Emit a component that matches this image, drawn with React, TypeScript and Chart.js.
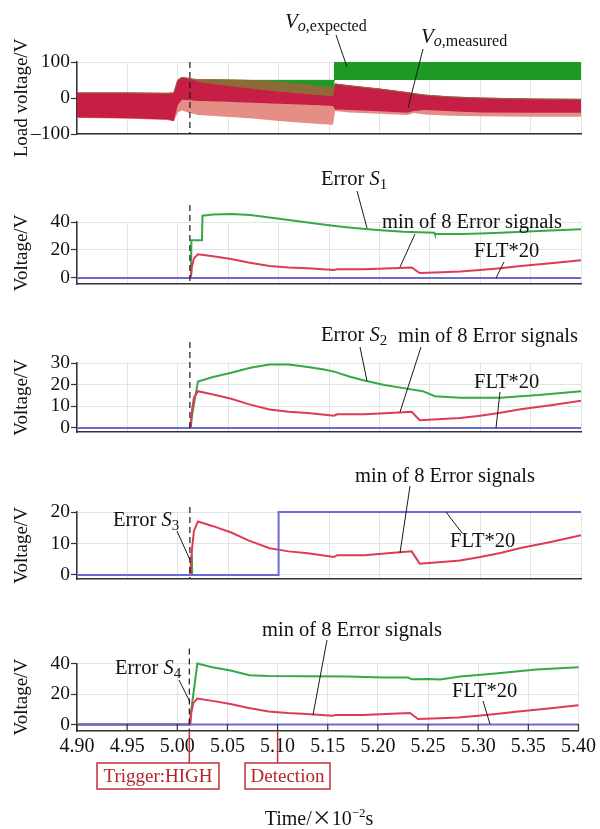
import React, { useEffect, useRef } from 'react';
import { Chart, registerables } from 'chart.js';

Chart.register(...registerables);

const SERIF = '"Liberation Serif", "Times New Roman", serif';
const LABEL_SIZE = 20.5;

// Shared time axis (×10^-2 s)
const timeTicks = [4.9, 4.95, 5.0, 5.05, 5.1, 5.15, 5.2, 5.25, 5.3, 5.35, 5.4];
const triggerTime = 5.012;
const detectionTime = 5.1;

// Load voltage: envelopes of the switching ripple
const loadTime = [4.9, 4.95, 4.99, 4.996, 5.0, 5.004, 5.012, 5.02, 5.04, 5.06, 5.08, 5.1, 5.12, 5.14, 5.154, 5.156, 5.17, 5.2, 5.228, 5.234, 5.245, 5.27, 5.3, 5.35, 5.4];
const measuredHigh = [14, 14, 13, 14, 50, 57, 54, 51, 51, 50, 48, 44, 39, 33, 28, 39, 34, 25, 15, 12, 8, 3, 0, -3, -4];
const coreHigh = [14, 14, 13, 14, 50, 57, 54, 45, 37, 30, 24, 18, 13, 8, 5, 39, 34, 25, 15, 12, 8, 3, 0, -3, -4];
const coreLow = [-54, -56, -60, -64, -20, -5, -6, -8, -10, -12, -14, -16, -18, -20, -22, -32, -33, -37, -41, -36, -33, -37, -40, -41, -41];
const measuredLow = [-54, -56, -60, -64, -40, -35, -42, -47, -51, -54, -58, -64, -68, -72, -74, -36, -40, -44, -47, -42, -46, -49, -51, -52, -52];

// Expected output voltage band
const expectedTime = [5.012, 5.155, 5.1555, 5.4];
const expectedHigh = [49, 49, 100, 100];
const expectedLow = [26, 26, 50, 50];

// min of 8 error signals (same trace in every error panel)
const minErrTime = [4.9, 5.013, 5.014, 5.016, 5.02, 5.035, 5.053, 5.07, 5.091, 5.11, 5.129, 5.155, 5.158, 5.185, 5.22, 5.232, 5.24, 5.262, 5.28, 5.3, 5.32, 5.34, 5.37, 5.4];
const minErr = [0, 0, 8, 14, 17, 15.5, 13.5, 11, 8.5, 7.5, 6.9, 5.7, 6.3, 6.3, 7.2, 7.5, 3.6, 4.1, 4.6, 5.7, 7.0, 8.6, 10.5, 12.6];

// Error signals of the individual switches
const s1Time = [4.9, 5.013, 5.0135, 5.024, 5.0245, 5.035, 5.053, 5.072, 5.091, 5.11, 5.129, 5.148, 5.167, 5.186, 5.205, 5.224, 5.2545, 5.255, 5.282, 5.3, 5.32, 5.358, 5.4];
const s1 = [0, 0, 27, 27, 44.5, 45.3, 45.7, 45, 43.2, 41.4, 39.6, 37.8, 36.3, 35, 34, 33, 32.4, 31.4, 31.4, 31.8, 32.4, 33.6, 34.8];

const s2Time = [4.9, 5.012, 5.02, 5.035, 5.053, 5.072, 5.091, 5.11, 5.129, 5.145, 5.156, 5.17, 5.186, 5.205, 5.224, 5.243, 5.255, 5.28, 5.32, 5.358, 5.4];
const s2 = [0, 0, 21.5, 23.5, 25.5, 27.8, 29.3, 29.3, 28.2, 27, 25.9, 23.8, 21.8, 19.8, 18.4, 17, 14.7, 14, 14, 15.2, 17];

const s3Time = [4.9, 5.012, 5.0138, 5.0143];
const s3 = [0, 0, 6.5, 0];

const s4Time = [4.9, 5.012, 5.02, 5.035, 5.053, 5.072, 5.091, 5.13, 5.17, 5.205, 5.23, 5.234, 5.25, 5.262, 5.282, 5.3, 5.32, 5.358, 5.4];
const s4 = [0, 0, 40, 37.5, 35.4, 32.3, 31.8, 31.6, 31.4, 30.8, 30.8, 29.6, 29.9, 29.5, 31.4, 32.5, 33.6, 36, 37.6];

// Fault flag ×20
const fltTime = [4.9, 5.1, 5.1, 5.4];
const fltIdle = [0, 0, 0, 0];
const fltS3 = [0, 0, 20, 20];

const loadTicks = [-100, 0, 100];
const s1Ticks = [0, 20, 40];
const s2Ticks = [0, 10, 20, 30];
const s3Ticks = [0, 10, 20];
const s4Ticks = [0, 20, 40];

const GREEN = '#36a845';
const RED = '#de3b58';
const BLUE = '#6b6bd6';
const INK = '#1a1a1a';
const MARK = '#c3303a';

type Part = { text: string; italic?: boolean; size?: number; dy?: number; family?: string };
type Ann =
  | { kind: 'text'; x: number; y: number; parts: Part[] }
  | { kind: 'line'; x1: number; y1: number; x2: number; y2: number };

interface PanelSpec {
  top: number;
  height: number;
  areaTop: number;
  areaBottom: number;
  yMin: number;
  yMax: number;
  yTicks: number[];
  yTitle: string;
  datasets: any[];
  annotations: Ann[];
  dashRise: number;
  timeAxis?: boolean;
}

const pts = (t: number[], v: number[]) => t.map((x, i) => ({ x, y: v[i] }));

const trace = (label: string, t: number[], v: number[], color: string, order: number) => ({
  label,
  data: pts(t, v),
  borderColor: color,
  borderWidth: 2,
  pointRadius: 0,
  fill: false,
  clip: false,
  order,
});

const band = (label: string, t: number[], v: number[], color: string | null, order: number) => ({
  label,
  data: pts(t, v),
  borderColor: color ?? 'rgba(0,0,0,0)',
  borderWidth: 1,
  backgroundColor: color ?? 'rgba(0,0,0,0)',
  fill: color ? '-1' : false,
  pointRadius: 0,
  order,
});

const txt = (x: number, y: number, parts: Part[]): Ann => ({ kind: 'text', x, y, parts });
const lead = (x1: number, y1: number, x2: number, y2: number): Ann => ({ kind: 'line', x1, y1, x2, y2 });
const errLabel = (x: number, y: number, n: string) =>
  txt(x, y, [{ text: 'Error ' }, { text: 'S', italic: true }, { text: n, size: 15, dy: 4 }]);

const panels: PanelSpec[] = [
  {
    top: 0, height: 160, areaTop: 62, areaBottom: 134,
    yMin: -100, yMax: 100, yTicks: loadTicks, yTitle: 'Load voltage/V', dashRise: 0,
    datasets: [
      band('measured low', loadTime, measuredLow, null, 4),
      band('ripple low', loadTime, coreLow, '#e58e86', 3),
      band('ripple core', loadTime, coreHigh, '#c61e44', 2),
      band('ripple over expected', loadTime, measuredHigh, '#8d6a38', 1),
      band('expected low', expectedTime, expectedLow, null, 6),
      band('expected', expectedTime, expectedHigh, '#1c9a24', 5),
    ],
    annotations: [
      txt(285, 28, [{ text: 'V', italic: true, size: 21 }, { text: 'o', italic: true, size: 16, dy: 3 }, { text: ',expected', size: 16, dy: 3 }]),
      lead(336, 35, 347, 67),
      txt(421, 43, [{ text: 'V', italic: true, size: 21 }, { text: 'o', italic: true, size: 16, dy: 3 }, { text: ',measured', size: 16, dy: 3 }]),
      lead(423, 49, 408, 108),
    ],
  },
  {
    top: 160, height: 140, areaTop: 222, areaBottom: 284,
    yMin: -4.29, yMax: 40, yTicks: s1Ticks, yTitle: 'Voltage/V', dashRise: 17,
    datasets: [
      trace('FLT*20', fltTime, fltIdle, BLUE, 1),
      trace('min of 8 Error signals', minErrTime, minErr, RED, 2),
      trace('Error S1', s1Time, s1, GREEN, 3),
    ],
    annotations: [
      errLabel(321, 185, '1'),
      lead(357, 191, 367, 228),
      txt(382, 228, [{ text: 'min of 8 Error signals' }]),
      lead(415, 234, 400, 267),
      txt(474, 257, [{ text: 'FLT*20' }]),
      lead(504, 262, 496, 278),
    ],
  },
  {
    top: 300, height: 150, areaTop: 363, areaBottom: 432,
    yMin: -1.85, yMax: 30, yTicks: s2Ticks, yTitle: 'Voltage/V', dashRise: 21,
    datasets: [
      trace('FLT*20', fltTime, fltIdle, BLUE, 1),
      trace('min of 8 Error signals', minErrTime, minErr, RED, 2),
      trace('Error S2', s2Time, s2, GREEN, 3),
    ],
    annotations: [
      errLabel(321, 341, '2'),
      lead(360, 347, 367, 381),
      txt(398, 342, [{ text: 'min of 8 Error signals' }]),
      lead(421, 347, 400, 412),
      txt(474, 388, [{ text: 'FLT*20' }]),
      lead(500, 392, 496, 428),
    ],
  },
  {
    top: 450, height: 150, areaTop: 512, areaBottom: 579,
    yMin: -1.27, yMax: 20, yTicks: s3Ticks, yTitle: 'Voltage/V', dashRise: 5,
    datasets: [
      trace('FLT*20', fltTime, fltS3, BLUE, 1),
      trace('min of 8 Error signals', minErrTime, minErr, RED, 2),
      trace('Error S3', s3Time, s3, GREEN, 3),
    ],
    annotations: [
      txt(355, 482, [{ text: 'min of 8 Error signals' }]),
      lead(410, 486, 400, 553),
      txt(450, 547, [{ text: 'FLT*20' }]),
      lead(446, 512, 462, 533),
      errLabel(113, 526, '3'),
      lead(177, 531, 190, 560),
    ],
  },
  {
    top: 600, height: 229, areaTop: 663.5, areaBottom: 731,
    yMin: -4.26, yMax: 40, yTicks: s4Ticks, yTitle: 'Voltage/V', dashRise: 15, timeAxis: true,
    datasets: [
      trace('FLT*20', fltTime, fltIdle, BLUE, 1),
      trace('min of 8 Error signals', minErrTime, minErr, RED, 2),
      trace('Error S4', s4Time, s4, GREEN, 3),
    ],
    annotations: [
      txt(262, 636, [{ text: 'min of 8 Error signals' }]),
      lead(327, 640, 313, 715),
      txt(452, 697, [{ text: 'FLT*20' }]),
      lead(483, 701, 490, 724),
      errLabel(115, 674, '4'),
      lead(179, 680, 190, 702),
    ],
  },
];

const markerBoxes = [
  { at: triggerTime, text: 'Trigger:HIGH', x: 97, y: 763, w: 122, h: 26 },
  { at: detectionTime, text: 'Detection', x: 245, y: 763, w: 85, h: 26 },
];

const fontOf = (p: Part) => `${p.italic ? 'italic ' : ''}${p.size ?? LABEL_SIZE}px ${p.family ?? SERIF}`;

function drawParts(ctx: CanvasRenderingContext2D, x: number, y: number, parts: Part[], color: string) {
  let cx = x;
  ctx.textAlign = 'left';
  ctx.textBaseline = 'alphabetic';
  ctx.fillStyle = color;
  for (const p of parts) {
    ctx.font = fontOf(p);
    ctx.fillText(p.text, cx, y + (p.dy ?? 0));
    cx += ctx.measureText(p.text).width;
  }
}

function measureParts(ctx: CanvasRenderingContext2D, parts: Part[]) {
  let w = 0;
  for (const p of parts) {
    ctx.font = fontOf(p);
    w += ctx.measureText(p.text).width;
  }
  return w;
}

function makeDecor(spec: PanelSpec) {
  return {
    id: 'panelDecor',
    afterDraw(chart: any) {
      const { ctx, chartArea } = chart;
      const xs = chart.scales.x;
      const off = spec.top;
      ctx.save();

      // trigger instant
      const xt = xs.getPixelForValue(triggerTime);
      ctx.strokeStyle = INK;
      ctx.lineWidth = 1.2;
      ctx.setLineDash([6, 4]);
      ctx.beginPath();
      ctx.moveTo(xt, chartArea.top - spec.dashRise);
      ctx.lineTo(xt, chartArea.bottom);
      ctx.stroke();
      ctx.setLineDash([]);

      // labels and leader lines
      for (const a of spec.annotations) {
        if (a.kind === 'line') {
          ctx.strokeStyle = INK;
          ctx.lineWidth = 1;
          ctx.beginPath();
          ctx.moveTo(a.x1, a.y1 - off);
          ctx.lineTo(a.x2, a.y2 - off);
          ctx.stroke();
        } else {
          drawParts(ctx, a.x, a.y - off, a.parts, '#111');
        }
      }

      if (spec.timeAxis) {
        // inward tick marks on the time axis
        ctx.strokeStyle = '#333';
        ctx.lineWidth = 1.2;
        for (const v of timeTicks) {
          const px = xs.getPixelForValue(v);
          ctx.beginPath();
          ctx.moveTo(px, chartArea.bottom);
          ctx.lineTo(px, chartArea.bottom - 7);
          ctx.stroke();
        }
        // trigger / detection markers
        for (const b of markerBoxes) {
          const px = xs.getPixelForValue(b.at);
          ctx.strokeStyle = MARK;
          ctx.lineWidth = 1.5;
          ctx.beginPath();
          ctx.moveTo(px, chartArea.bottom);
          ctx.lineTo(px, b.y - off);
          ctx.stroke();
          ctx.strokeRect(b.x, b.y - off, b.w, b.h);
          ctx.font = `19px ${SERIF}`;
          ctx.fillStyle = '#b5232b';
          ctx.textAlign = 'center';
          ctx.textBaseline = 'middle';
          ctx.fillText(b.text, b.x + b.w / 2, b.y - off + b.h / 2 + 1);
        }
        // axis title
        const title: Part[] = [
          { text: 'Time/', size: 20 },
          { text: '×', size: 20, family: '"Noto Sans CJK SC", sans-serif' },
          { text: '10', size: 20 },
          { text: '−2', size: 13, dy: -8 },
          { text: 's', size: 20 },
        ];
        const w = measureParts(ctx, title);
        drawParts(ctx, 319 - w / 2, 825 - off, title, '#111');
      }
      ctx.restore();
    },
  };
}

function buildConfig(spec: PanelSpec): any {
  const xTickFont = { family: SERIF, size: 20 };
  const yTickFont = { family: SERIF, size: 19.5 };
  const titleFont = { family: SERIF, size: 19 };
  return {
    type: 'line',
    data: { datasets: spec.datasets },
    options: {
      responsive: false,
      animation: false,
      events: [],
      layout: { padding: { left: 0, right: 19, top: spec.areaTop - spec.top, bottom: 0 } },
      plugins: { legend: { display: false }, tooltip: { enabled: false } },
      elements: { line: { tension: 0 }, point: { radius: 0 } },
      scales: {
        x: {
          type: 'linear',
          min: 4.9,
          max: 5.4,
          afterBuildTicks: (s: any) => {
            s.ticks = timeTicks.map((value) => ({ value }));
          },
          afterFit: (s: any) => {
            s.height = spec.height - (spec.areaBottom - spec.top);
          },
          ticks: {
            display: !!spec.timeAxis,
            font: xTickFont,
            color: '#111',
            padding: 4,
            maxRotation: 0,
            autoSkip: false,
            callback: (v: number) => Number(v).toFixed(2),
          },
          grid: { color: '#e3e3e3', lineWidth: 1, drawTicks: false },
          border: { display: true, color: '#333', width: 1.5 },
        },
        y: {
          type: 'linear',
          min: spec.yMin,
          max: spec.yMax,
          afterBuildTicks: (s: any) => {
            s.ticks = spec.yTicks.map((value) => ({ value }));
          },
          afterFit: (s: any) => {
            s.width = 77;
          },
          ticks: {
            font: yTickFont,
            color: '#111',
            padding: 1,
            autoSkip: false,
            callback: (v: number) => (v < 0 ? '\u2013' + Math.abs(v) : String(v)),
          },
          grid: { color: '#e3e3e3', lineWidth: 1, tickColor: '#333', tickLength: 6, tickWidth: 1.2 },
          border: { display: true, color: '#333', width: 1.5 },
          title: {
            display: true,
            text: spec.yTitle,
            font: titleFont,
            color: '#111',
            padding: { top: 11, bottom: 0 },
          },
        },
      },
    },
    plugins: [makeDecor(spec)],
  };
}

function Panel({ spec }: { spec: PanelSpec }) {
  const ref = useRef<HTMLCanvasElement>(null);
  useEffect(() => {
    if (!ref.current) return;
    const chart = new Chart(ref.current, buildConfig(spec));
    return () => chart.destroy();
  }, [spec]);
  return (
    <canvas
      ref={ref}
      width={600}
      height={spec.height}
      style={{ position: 'absolute', left: 0, top: spec.top, width: 600, height: spec.height, display: 'block' }}
    />
  );
}

export default function App() {
  return (
    <div style={{ position: 'absolute', left: 0, top: 0, width: 600, height: 829, background: '#fff', overflow: 'hidden' }}>
      {panels.map((p, i) => (
        <Panel key={i} spec={p} />
      ))}
    </div>
  );
}
